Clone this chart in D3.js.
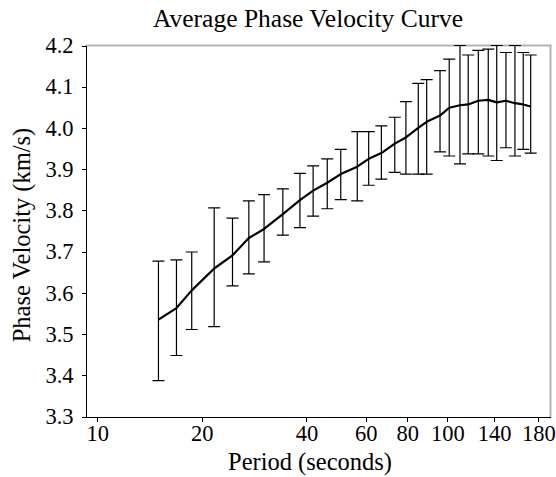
<!DOCTYPE html>
<head>
  <meta charset="utf-8">
  <script src="https://d3js.org/d3.v7.min.js"></script>
  <style>
    body { margin: 0; background: #fff; }
    .axis text { font-family: "Liberation Serif", serif; font-size: 22.5px; fill: #000; }
    .axis path, .axis line { stroke: #000; shape-rendering: crispEdges; }
    .label { font-family: "Liberation Serif", serif; fill: #000; }
  </style>
</head>
<body>
<script>
// periods (s) and phase velocities (km/s)
var period = [15, 16.9, 18.7, 21.7, 24.5, 27.3, 30.2, 34.2, 38.3, 41.8,
              45.9, 50.2, 56, 60.4, 65.7, 71.8, 77.3, 83.9, 88.7, 96.9,
              103, 110.6, 116.8, 124.9, 133.4, 141.1, 150, 159.2, 168.2, 176.7];
var meanVel = [3.535, 3.563, 3.606, 3.659, 3.691, 3.733, 3.755, 3.791, 3.825, 3.848,
               3.867, 3.888, 3.906, 3.925, 3.939, 3.962, 3.977, 4.000, 4.015, 4.030,
               4.049, 4.055, 4.057, 4.066, 4.068, 4.062, 4.066, 4.060, 4.057, 4.052];
var upperVel = [3.677, 3.680, 3.699, 3.806, 3.781, 3.823, 3.838, 3.852, 3.890, 3.908,
                3.925, 3.948, 3.991, 3.991, 4.005, 4.026, 4.064, 4.108, 4.117, 4.139,
                4.167, 4.200, 4.177, 4.188, 4.191, 4.200, 4.183, 4.200, 4.183, 4.177];
var lowerVel = [3.387, 3.448, 3.511, 3.518, 3.617, 3.646, 3.675, 3.740, 3.758, 3.786,
                3.804, 3.826, 3.823, 3.861, 3.876, 3.892, 3.888, 3.888, 3.888, 3.942,
                3.932, 3.913, 3.937, 3.937, 3.932, 3.921, 3.952, 3.932, 3.948, 3.939];

var xTickValues = [10, 20, 40, 59.2, 78, 101.7, 138.8, 185.8];
var xTickLabels = ["10", "20", "40", "60", "80", "100", "140", "180"];
var yTickValues = [3.3, 3.4, 3.5, 3.6, 3.7, 3.8, 3.9, 4.0, 4.1, 4.2];

var w = 556, h = 477;
var mLeft = 85.5, mRight = 550.5, mTop = 45.5, mBottom = 416.5;
var capW = 12;

var svg = d3.select("body").append("svg")
    .attr("width", w)
    .attr("height", h);

var xScale = d3.scaleLog()
    .domain([9.25, 201.5])
    .range([mLeft, mRight]);
var yScale = d3.scaleLinear()
    .domain([3.3, 4.2])
    .range([mBottom, mTop]);

// top and right frame in grey
svg.append("path")
    .attr("d", "M" + mLeft + "," + mTop + "H" + mRight + "V" + (mBottom + 2))
    .attr("fill", "none")
    .attr("stroke", "#b3b3b3")
    .attr("stroke-width", 2);

var xAxis = d3.axisBottom(xScale)
    .tickValues(xTickValues)
    .tickFormat(function(d, i) { return xTickLabels[i]; })
    .tickSize(5)
    .tickSizeOuter(0)
    .tickPadding(4);
svg.append("g")
    .attr("class", "axis")
    .attr("transform", "translate(0," + mBottom + ")")
    .call(xAxis);

var yAxis = d3.axisLeft(yScale)
    .tickValues(yTickValues)
    .tickFormat(d3.format(".1f"))
    .tickSize(4)
    .tickSizeOuter(0)
    .tickPadding(8);
svg.append("g")
    .attr("class", "axis")
    .attr("transform", "translate(" + mLeft + ",0)")
    .call(yAxis);

var data = period.map(function(p, i) {
    return { p: p, m: meanVel[i], hi: upperVel[i], lo: lowerVel[i] };
});

var bars = svg.append("g")
    .attr("stroke", "#000")
    .attr("stroke-width", 1.2)
    .attr("fill", "none");
bars.selectAll("path")
    .data(data)
    .enter()
    .append("path")
    .attr("d", function(d) {
        var x = xScale(d.p), y1 = yScale(d.hi), y0 = yScale(d.lo);
        return "M" + x + "," + y1 + "V" + y0 +
               "M" + (x - capW / 2) + "," + y1 + "H" + (x + capW / 2) +
               "M" + (x - capW / 2) + "," + y0 + "H" + (x + capW / 2);
    });

var line = d3.line()
    .x(function(d) { return xScale(d.p); })
    .y(function(d) { return yScale(d.m); });
svg.append("path")
    .datum(data)
    .attr("d", line)
    .attr("fill", "none")
    .attr("stroke", "#000")
    .attr("stroke-width", 2.2)
    .attr("stroke-linejoin", "round");

svg.append("text")
    .attr("class", "label")
    .attr("x", 308)
    .attr("y", 27)
    .attr("text-anchor", "middle")
    .style("font-size", "25.5px")
    .text("Average Phase Velocity Curve");

svg.append("text")
    .attr("class", "label")
    .attr("x", 310)
    .attr("y", 470)
    .attr("text-anchor", "middle")
    .style("font-size", "24.5px")
    .text("Period (seconds)");

svg.append("text")
    .attr("class", "label")
    .attr("transform", "translate(30," + ((mTop + mBottom) / 2 + 4) + ") rotate(-90)")
    .attr("text-anchor", "middle")
    .style("font-size", "24.5px")
    .text("Phase Velocity (km/s)");
</script>
</body>
